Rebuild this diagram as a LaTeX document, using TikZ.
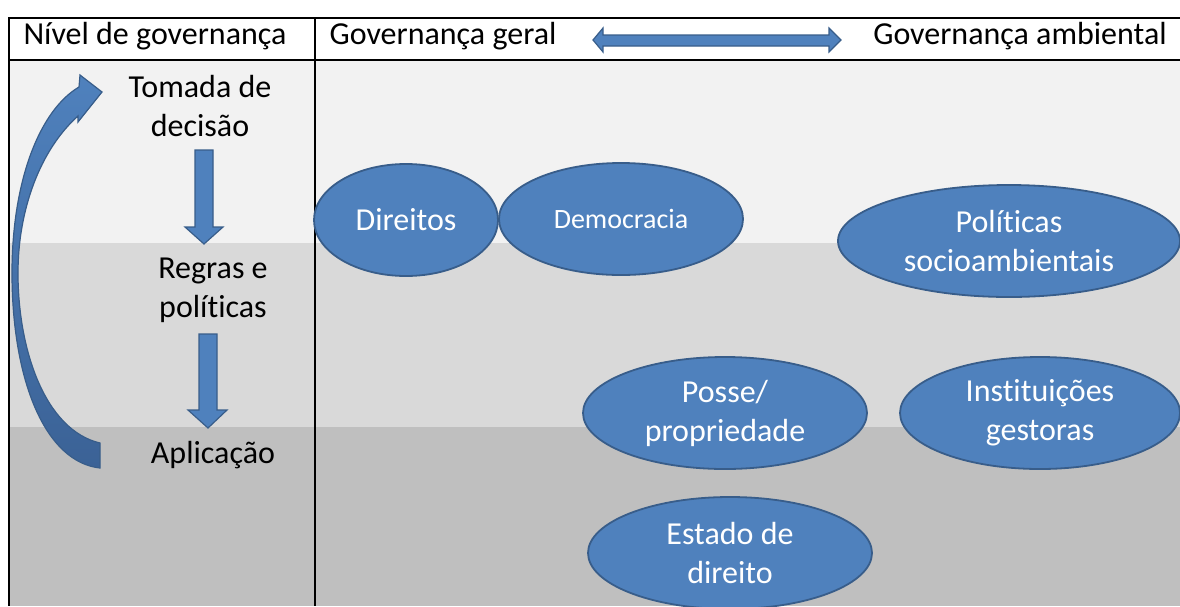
\documentclass[tikz,border=0pt]{standalone}
\usepackage{fontspec}
\setmainfont{Carlito}[Ligatures=NoCommon]
\usetikzlibrary{shapes.geometric}
\definecolor{bandA}{HTML}{F2F2F2}
\definecolor{bandB}{HTML}{D9D9D9}
\definecolor{bandC}{HTML}{BFBFBF}
\definecolor{blockfill}{HTML}{4F81BD}
\definecolor{blockdark}{HTML}{3B6296}
\definecolor{blockline}{HTML}{385D8A}
\begin{document}
\begin{tikzpicture}[x=1pt, y=-1pt,
  txt/.style={align=center, inner sep=0pt, font=\fontsize{32}{39}\selectfont},
  bubble/.style={ellipse, fill=blockfill, draw=blockline, line width=1.8pt,
    text=white, align=center, inner sep=0pt, font=\fontsize{32}{39}\selectfont},
  block/.style={fill=blockfill, draw=blockline, line width=1.2pt, line join=miter}]
\useasboundingbox (0,0) rectangle (1180,606);
% bands
\fill[bandA](9,60) rectangle (1180,243);
\fill[bandB](9,243) rectangle (1180,427);
\fill[bandC](9,427) rectangle (1180,606);
% table
\draw[line width=1.3pt](1180,18)--(9,18)--(9,606);
\draw[line width=1.3pt](315,18)--(315,606);
\draw[line width=2.6pt](9,60)--(1180,60);
% header
\node[txt] (nivel) at (155,36) {Nível de governança};
\node[txt] (geral) at (443,36) {Governança geral};
\node[txt] (ambiental) at (1020,36) {Governança ambiental};
\fill[block](593,40)--(603,28)--(603,35)--(829,35)--(829,28)--(841,40)
  --(829,52)--(829,46)--(603,46)--(603,52)--cycle;
% left column
\node[txt] (tomada) at (200,106) {Tomada de\\decisão};
\node[txt] (regras) at (213,290) {Regras e\\políticas};
\node[txt] (aplicacao) at (213,455) {Aplicação};
\fill[block](195,150)--(213,150)--(213,227)--(223,227)--(204,244)
  --(185,227)--(195,227)--cycle;
\fill[block](199,334)--(217,334)--(217,410)--(227,410)--(208,428)
  --(188,410)--(199,410)--cycle;
\path[draw=blockline, line width=1.2pt, top color=blockfill, bottom color=blockdark]
  (100,468) .. controls (45,462) and (12,380) .. (12,273)
  .. controls (12,180) and (40,110) .. (79,87) -- (80,75) -- (102,92)
  -- (78,122) -- (78,116) .. controls (40,150) and (18,210) .. (18,273)
  .. controls (18,350) and (45,430) .. (100,443) -- cycle;
% ellipses
\node[bubble, minimum width=184, minimum height=112] (direitos) at (406,220) {Direitos};
\node[bubble, minimum width=244, minimum height=112,
  font=\fontsize{28}{34}\selectfont] (democracia) at (621,219) {Democracia};
\node[bubble, minimum width=342, minimum height=112] (politicas) at (1009,241) {Políticas\\socioambientais};
\node[bubble, minimum width=284, minimum height=112] (posse) at (725,413) {Posse/\\propriedade};
\node[bubble, minimum width=280, minimum height=112] (instituicoes) at (1040,413) {Instituições\\gestoras};
\node[bubble, minimum width=284, minimum height=112] (estado) at (730,553) {Estado de\\direito};
\end{tikzpicture}
\end{document}
